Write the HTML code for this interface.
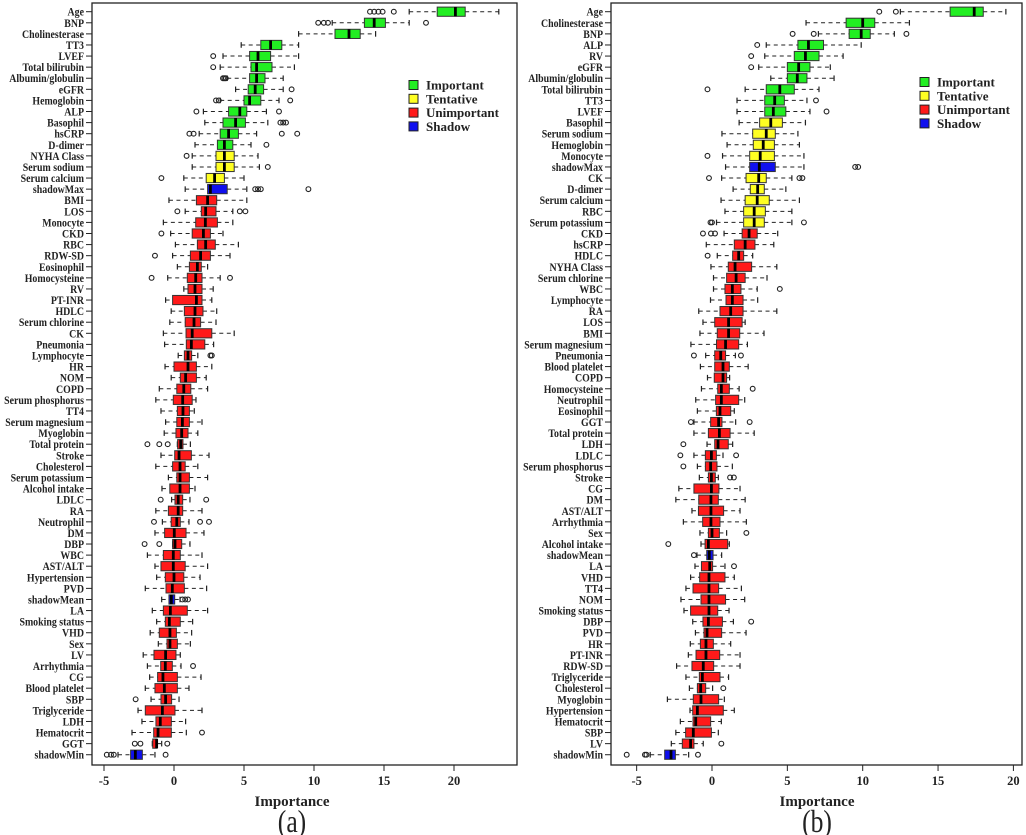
<!DOCTYPE html>
<html><head><meta charset="utf-8"><style>
html,body{margin:0;padding:0;background:#fff;}
svg{display:block;font-family:"Liberation Serif",serif;}
</style></head><body>
<svg id="chart" width="1026" height="835" viewBox="0 0 1026 835" xmlns="http://www.w3.org/2000/svg"></svg>
<script>
const ticksVals=[-5,0,5,10,15,20];
const legendLabels=["Important","Tentative","Unimportant","Shadow"];
const labelsA=["Age","BNP","Cholinesterase","TT3","LVEF","Total bilirubin","Albumin/globulin","eGFR","Hemoglobin","ALP","Basophil","hsCRP","D-dimer","NYHA Class","Serum sodium","Serum calcium","shadowMax","BMI","LOS","Monocyte","CKD","RBC","RDW-SD","Eosinophil","Homocysteine","RV","PT-INR","HDLC","Serum chlorine","CK","Pneumonia","Lymphocyte","HR","NOM","COPD","Serum phosphorus","TT4","Serum magnesium","Myoglobin","Total protein","Stroke","Cholesterol","Serum potassium","Alcohol intake","LDLC","RA","Neutrophil","DM","DBP","WBC","AST/ALT","Hypertension","PVD","shadowMean","LA","Smoking status","VHD","Sex","LV","Arrhythmia","CG","Blood platelet","SBP","Triglyceride","LDH","Hematocrit","GGT","shadowMin"];
const catsA=["G","G","G","G","G","G","G","G","G","G","G","G","G","Y","Y","Y","B","R","R","R","R","R","R","R","R","R","R","R","R","R","R","R","R","R","R","R","R","R","R","R","R","R","R","R","R","R","R","R","R","R","R","R","R","B","R","R","R","R","R","R","R","R","R","R","R","R","R","B"];
const loA=[16.8,11.3,8.9,4.8,3.5,3.3,3.8,4.4,3.3,2.1,2.2,1.8,1.5,1.3,1.3,0.7,0.8,-0.36,0.8,-0.76,-0.24,0.1,-0.1,0.24,-0.45,0.7,-0.6,-0.2,-0.3,-0.76,-0.67,0.3,-0.64,-0.2,-1.05,-1.3,-0.93,-0.6,-0.7,0.24,-0.93,-1.3,-0.4,-0.86,-0.17,-1.3,-0.83,-1.36,-0.1,-1.9,-1.36,-1.24,-2.05,-0.88,-1.55,-1.24,-1.7,-1.12,-2.2,-1.9,-1.74,-2.05,-1.64,-2.57,-2.29,-3.0,-1.55,-4.0];
const q1A=[18.8,13.6,11.5,6.2,5.4,5.5,5.4,5.3,5.0,3.9,3.5,3.3,3.1,3.0,3.0,2.3,2.4,1.6,1.95,1.55,1.3,1.67,1.17,1.1,0.95,1.0,-0.1,0.74,0.8,0.86,0.88,0.74,0.0,0.45,0.2,-0.05,0.24,0.2,0.14,0.26,0.05,-0.1,0.2,-0.3,0.07,-0.4,-0.2,-0.67,-0.1,-0.76,-0.93,-0.62,-0.57,-0.36,-0.76,-0.62,-1.05,-0.5,-1.43,-0.95,-1.17,-1.36,-0.93,-2.05,-1.29,-1.45,-1.52,-3.1];
const medA=[20.1,14.3,12.5,6.9,6.0,5.9,5.9,5.8,5.4,4.7,4.4,3.9,3.6,3.6,3.6,2.9,2.6,2.4,2.26,2.24,2.1,2.26,1.9,1.67,1.55,1.5,1.6,1.5,1.43,1.3,1.24,1.0,1.0,0.83,0.7,0.62,0.64,0.6,0.55,0.48,0.36,0.43,0.43,0.43,0.3,0.3,0.2,0.02,0.07,-0.05,-0.05,0,-0.12,-0.19,-0.26,-0.33,-0.29,-0.29,-0.6,-0.62,-0.79,-0.69,-0.6,-0.83,-0.98,-1.14,-1.24,-2.76];
const q3A=[20.8,15.1,13.3,7.7,6.9,7.0,6.5,6.4,6.2,5.2,5.1,4.6,4.2,4.3,4.3,3.6,3.8,3.05,3.0,3.1,2.6,2.95,2.6,1.95,2.0,2.0,2.0,2.07,1.9,2.7,2.2,1.26,1.6,1.6,1.2,1.3,1.1,1.1,1.0,0.64,1.24,0.8,1.1,1.1,0.62,0.62,0.45,0.86,0.55,0.45,0.8,0.7,0.74,0.05,0.95,0.45,0.17,0.24,0.14,-0.12,0.24,0.24,-0.17,0.07,-0.19,-0.19,-1.21,-2.26];
const hiA=[23.2,16.8,14.4,8.9,8.9,8.6,7.8,7.8,7.5,6.6,6.7,5.9,5.5,6.0,6.1,5.0,5.2,5.2,4.2,4.2,3.5,4.6,4.0,2.4,3.3,2.8,2.7,3.05,3.0,4.3,2.83,1.7,2.7,2.3,2.4,1.57,1.45,2.0,1.7,1.17,2.5,1.7,2.4,1.5,1.14,2.0,1.07,2.14,1.14,2.0,2.4,1.86,2.33,0.43,2.4,1.33,1.26,1.17,0.45,0.5,1.93,1.07,0.36,2.0,0.83,0.88,-0.88,-1.36];
const outA=[[14.0,14.3,14.6,14.9,15.7],[10.3,10.7,11.0,18.0],[],[],[2.8],[2.8],[3.5,3.6,3.7],[8.4],[3.0,3.2,8.3],[1.6,7.5],[7.6,7.8,8.0],[1.1,1.4,7.7,8.8],[6.6],[0.9],[6.7],[-0.9],[5.8,6.0,6.2,9.6],
[],[0.24,4.7,5.1],[],[-0.9],[],[-1.36],[],[-1.6,4.0],[],[],[],[],[],[],[2.6,2.7],[],[],[],[],[],[],[],[-1.9,-1.05,-0.45],[],[],
[],[],[-0.95,2.3],[],[-1.43,1.86,2.5],[],[-2.1,-1.05],[],[],[],[],[0.6,0.8,1.0],[],[],[],[],[],[1.36],[],[],[-2.74],[],[],[2.0],[-2.8,-2.4,-0.48],[-4.8,-4.5,-4.3,-0.6]];

const labelsB=["Age","Cholinesterase","BNP","ALP","RV","eGFR","Albumin/globulin","Total bilirubin","TT3","LVEF","Basophil","Serum sodium","Hemoglobin","Monocyte","shadowMax","CK","D-dimer","Serum calcium","RBC","Serum potassium","CKD","hsCRP","HDLC","NYHA Class","Serum chlorine","WBC","Lymphocyte","RA","LOS","BMI","Serum magnesium","Pneumonia","Blood platelet","COPD","Homocysteine","Neutrophil","Eosinophil","GGT","Total protein","LDH","LDLC","Serum phosphorus","Stroke","CG","DM","AST/ALT","Arrhythmia","Sex","Alcohol intake","shadowMean","LA","VHD","TT4","NOM","Smoking status","DBP","PVD","HR","PT-INR","RDW-SD","Triglyceride","Cholesterol","Myoglobin","Hypertension","Hematocrit","SBP","LV","shadowMin"];
const catsB=["G","G","G","G","G","G","G","G","G","G","Y","Y","Y","Y","B","Y","Y","Y","Y","Y","R","R","R","R","R","R","R","R","R","R","R","R","R","R","R","R","R","R","R","R","R","R","R","R","R","R","R","R","R","B","R","R","R","R","R","R","R","R","R","R","R","R","R","R","R","R","R","B"];
const loB=[12.5,6.24,7.06,3.6,3.5,3.1,3.9,2.2,1.66,1.66,1.8,0.66,1.0,0.7,0.9,0.64,1.4,0.6,0.86,0.3,0.8,-0.38,0.35,-0.07,0.1,0.1,-0.1,-0.88,-0.6,-0.8,-1.4,-0.42,-0.77,-0.3,-0.7,-1.08,-0.97,-1.2,-1.2,-0.33,-1.2,-0.97,-0.84,-2.2,-2.4,-1.33,-1.9,-0.8,-0.73,-1.0,-1.13,-1.42,-1.73,-2.06,-1.86,-1.28,-1.1,-1.44,-1.57,-2.35,-1.73,-1.5,-2.96,-1.46,-2.1,-2.4,-2.7,-4.1];
const q1B=[15.8,8.9,9.1,5.7,5.46,5.0,5.0,3.6,3.5,3.5,3.16,2.7,2.74,2.5,2.5,2.26,2.54,2.2,2.1,2.1,2.0,1.48,1.37,1.08,0.97,0.86,0.93,0.53,0.18,0.35,0.3,0.18,0.18,0.15,0.38,0.24,0.29,-0.09,-0.24,0.18,-0.44,-0.44,-0.24,-1.2,-0.88,-0.9,-0.62,-0.24,-0.46,-0.35,-0.7,-0.82,-1.26,-0.73,-1.42,-0.6,-0.53,-0.77,-1.06,-1.33,-0.84,-0.97,-1.24,-1.28,-1.26,-1.75,-1.97,-3.14];
const medB=[17.4,10.0,9.9,6.4,6.2,5.75,5.66,4.5,4.16,4.07,3.9,3.6,3.4,3.2,3.14,3.1,3.03,3.0,2.8,2.8,2.46,2.2,1.77,1.53,1.6,1.35,1.35,1.24,1.1,1.1,0.9,0.58,0.73,0.73,0.62,0.62,0.53,0.44,0.49,0.4,-0.04,-0.09,-0.04,-0.04,-0.07,-0.07,-0.07,0,-0.24,-0.18,-0.15,-0.2,-0.2,-0.2,-0.2,-0.24,-0.33,-0.4,-0.4,-0.58,-0.64,-0.75,-0.73,-0.97,-1.08,-1.24,-1.42,-2.72];
const q3B=[18.0,10.8,10.5,7.4,7.1,6.5,6.3,5.46,4.8,4.9,4.67,4.2,4.14,4.14,4.2,3.6,3.47,3.8,3.54,3.47,3.0,2.85,2.1,2.63,2.2,1.92,2.06,2.06,2.0,1.84,1.77,0.9,1.15,0.97,1.15,1.77,1.24,0.66,1.2,1.08,0.29,0.33,0.22,0.46,0.42,0.77,0.53,0.49,1.04,0.07,0.04,0.86,0.44,0.9,0.38,0.69,0.64,0.09,0.51,0.11,0.53,-0.42,0.44,0.75,-0.09,-0.04,-1.2,-2.43];
const hiB=[19.5,13.1,12.1,9.9,8.7,7.85,8.1,7.1,6.3,6.5,6.2,5.7,5.8,6.1,6.1,5.3,4.9,5.8,5.3,5.3,4.36,4.1,2.7,4.3,3.65,3.0,3.03,4.3,2.2,3.45,2.35,1.55,2.4,1.17,1.8,2.17,1.48,1.57,2.8,1.37,0.73,1.35,0.42,1.86,2.2,1.86,2.28,0.97,1.15,0.64,0.86,1.48,1.95,2.17,1.13,1.42,2.26,1.24,1.86,1.86,1.1,0.04,0.82,1.48,0.62,0.42,-0.58,-1.55];
const outB=[[11.1,12.2],[],[5.35,6.75,12.9],[3.0],[2.6],[2.6],[],[-0.3],[6.9],[7.6],[],[],[],[-0.3],[9.5,9.7],[-0.2,5.8,6.0],
[],[],[],[-0.1,0,6.1],[-0.6,-0.07,0.2],[],[-0.29],[],[],[4.5],[],[],[],[],[],[-1.2,1.92],[],[],[2.7],[],[],[-1.4,2.5],[],[-1.9],[-2.1,1.6],[-1.9],
[1.2,1.45],[],[],[],[],[2.28],[-2.9],[-1.2],[1.46],[],[],[],[],[2.6],[],[],[],[],[],[0.75],[],[],[],[],[0.62],[-5.66,-4.45,-4.35,-0.93]];

const NS="http://www.w3.org/2000/svg";
const svg=document.getElementById('chart');
const COLORS={G:"#22ee22",Y:"#ffff22",R:"#ff1a1a",B:"#1010ee"};
function mk(tag,attrs,parent){const e=document.createElementNS(NS,tag);for(const k in attrs)e.setAttribute(k,attrs[k]);(parent||svg).appendChild(e);return e;}

function drawPanel(p){
  const g=mk('g',{});
  
  
  const xs=v=>p.x0+p.k*v;
  const ys=i=>p.top0+i*p.step;
  const fr=mk('rect',{x:p.left,y:p.top,width:p.right-p.left,height:p.bottom-p.top,fill:"none",stroke:"#222","stroke-width":1.3},g);
  
  
  ticksVals.forEach(t=>{
    const x=xs(t); if(x>p.right) return;
    mk('line',{x1:x,x2:x,y1:p.bottom,y2:p.bottom+6,stroke:"#222","stroke-width":1},g);
    const tl=mk('text',{x:x,y:p.bottom+20,"text-anchor":"middle","font-size":12.5,"font-weight":"bold",fill:"#222"},g);
    tl.textContent=String(t);
    
    
  });
  const xt=mk('text',{x:p.titleX,y:806,"text-anchor":"middle","font-size":15,"font-weight":"bold",fill:"#222"},g);
  xt.textContent="Importance";
  
  
  const pl=mk('text',{"text-anchor":"middle","font-size":32,fill:"#222",transform:"translate("+p.titleX+",832) scale(0.8,1)"},g);
  pl.textContent=p.panelLabel;
  
  
  const n=p.labels.length;
  for(let i=0;i<n;i++){
    const y=ys(i);
    const row=mk('g',{},g);
    
    
    mk('line',{x1:p.left-6,x2:p.left,y1:y,y2:y,stroke:"#222","stroke-width":1},row);
    const lab=mk('text',{"text-anchor":"end","font-size":11.5,"font-weight":"bold",fill:"#222",transform:"translate("+(p.left-8)+","+(y+4)+") scale(0.86,1)"},row);
    lab.textContent=p.labels[i];
    
    
    const lo=xs(p.lo[i]),q1=xs(p.q1[i]),md=xs(p.med[i]),q3=xs(p.q3[i]),hi=xs(p.hi[i]);
    mk('line',{x1:lo,x2:q1,y1:y,y2:y,stroke:"#222","stroke-width":1,"stroke-dasharray":"4,3.5"},row);
    mk('line',{x1:q3,x2:hi,y1:y,y2:y,stroke:"#222","stroke-width":1,"stroke-dasharray":"4,3.5"},row);
    mk('line',{x1:lo,x2:lo,y1:y-2.8,y2:y+2.8,stroke:"#222","stroke-width":1.2},row);
    mk('line',{x1:hi,x2:hi,y1:y-2.8,y2:y+2.8,stroke:"#222","stroke-width":1.2},row);
    mk('rect',{x:q1,y:y-4.6,width:Math.max(q3-q1,1),height:9.2,fill:COLORS[p.cats[i]],stroke:"#333","stroke-width":1},row);
    mk('line',{x1:md,x2:md,y1:y-4.6,y2:y+4.6,stroke:"#000","stroke-width":2.8},row);
    p.out[i].forEach(o=>{
      const c=mk('circle',{cx:xs(o),cy:y,r:2.4,fill:"none",stroke:"#222","stroke-width":1.1},row);
      
      
    });
  }
  const lg=mk('g',{},g);
  
  
  ["G","Y","R","B"].forEach((c,j)=>{
    const ly=p.legY+j*13.8;
    const it=mk('g',{},lg);
    
    
    mk('rect',{x:p.legX,y:ly-4.5,width:9,height:9,fill:COLORS[c],stroke:"#222","stroke-width":1},it);
    const t=mk('text',{x:p.legX+17,y:ly+4.5,"font-size":13,"font-weight":"bold",fill:"#222"},it);
    t.textContent=legendLabels[j];
  });
}

drawPanel({name:'panel-a',panelLabel:'(a)',labels:labelsA,cats:catsA,lo:loA,q1:q1A,med:medA,q3:q3A,hi:hiA,out:outA,
  left:92,right:517,top:3,bottom:765,x0:174,k:14,top0:11.7,step:11.09,titleX:292,legX:409,legY:85});
drawPanel({name:'panel-b',panelLabel:'(b)',labels:labelsB,cats:catsB,lo:loB,q1:q1B,med:medB,q3:q3B,hi:hiB,out:outB,
  left:611,right:1022,top:3,bottom:765,x0:712,k:15.07,top0:11.7,step:11.09,titleX:817,legX:920,legY:82});
</script>
</body></html>
